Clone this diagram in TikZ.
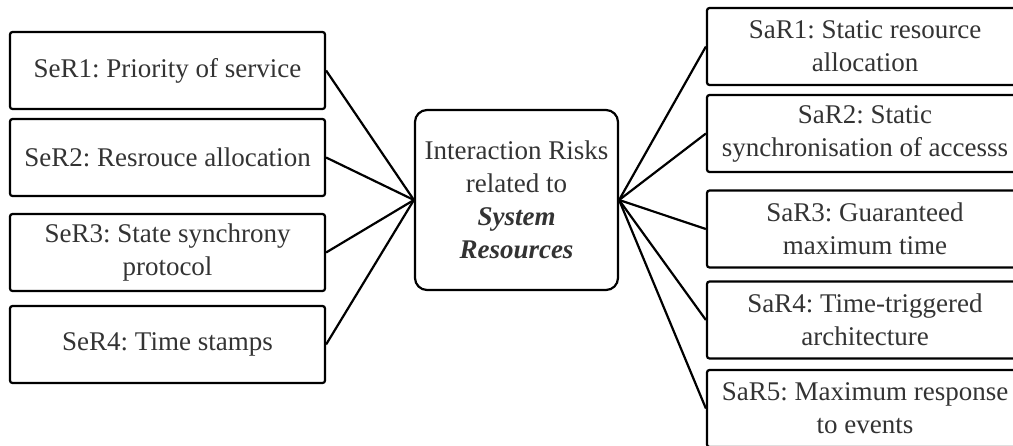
\documentclass[tikz,border=0pt]{standalone}
\usepackage{fontspec}
\setmainfont{Liberation Serif}
\definecolor{txt}{HTML}{333333}
\frenchspacing
\begin{document}
\begin{tikzpicture}[x=1pt,y=-1pt,
  every node/.style={text=txt, font=\fontsize{27}{33}\selectfont, align=center, inner sep=0pt},
  riskbox/.style={draw=black, line width=2.2pt, rounded corners=2.5pt,
    minimum width=315pt, minimum height=77pt},
  hub/.style={draw=black, line width=2.2pt, rounded corners=12pt,
    minimum width=203pt, minimum height=180pt},
  link/.style={line width=2.2pt, draw=black}]
\useasboundingbox (0,0) rectangle (1013,445);
\clip (0,0) rectangle (1013,445);

% central topic
\node[hub] (c) at (516.5,200) {Interaction Risks\\related to\\\textbf{\textit{System}}\\\textbf{\textit{Resources}}};

% service-related risks (left column)
\node[riskbox] (l1) at (167.5,70.5)  {SeR1: Priority of service};
\node[riskbox] (l2) at (167.5,157.5) {SeR2: Resrouce allocation};
\node[riskbox] (l3) at (167.5,252.5) {SeR3: State synchrony\\protocol};
\node[riskbox] (l4) at (167.5,344.5) {SeR4: Time stamps};

% resource-related risks (right column)
\node[riskbox, minimum width=316pt] (r1) at (865,46.5)  {SaR1: Static resource\\allocation};
\node[riskbox, minimum width=316pt] (r2) at (865,133.5) {SaR2: Static\\synchronisation of accesss};
\node[riskbox, minimum width=316pt] (r3) at (865,229)   {SaR3: Guaranteed\\maximum time};
\node[riskbox, minimum width=316pt] (r4) at (865,320)   {SaR4: Time-triggered\\architecture};
\node[riskbox, minimum width=316pt] (r5) at (865,408.5) {SaR5: Maximum response\\to events};

% connectors
\foreach \n in {l1,l2,l3,l4} \draw[link] (\n.east) -- (c.west);
\foreach \n in {r1,r2,r3,r4,r5} \draw[link] (c.east) -- (\n.west);
\end{tikzpicture}
\end{document}
